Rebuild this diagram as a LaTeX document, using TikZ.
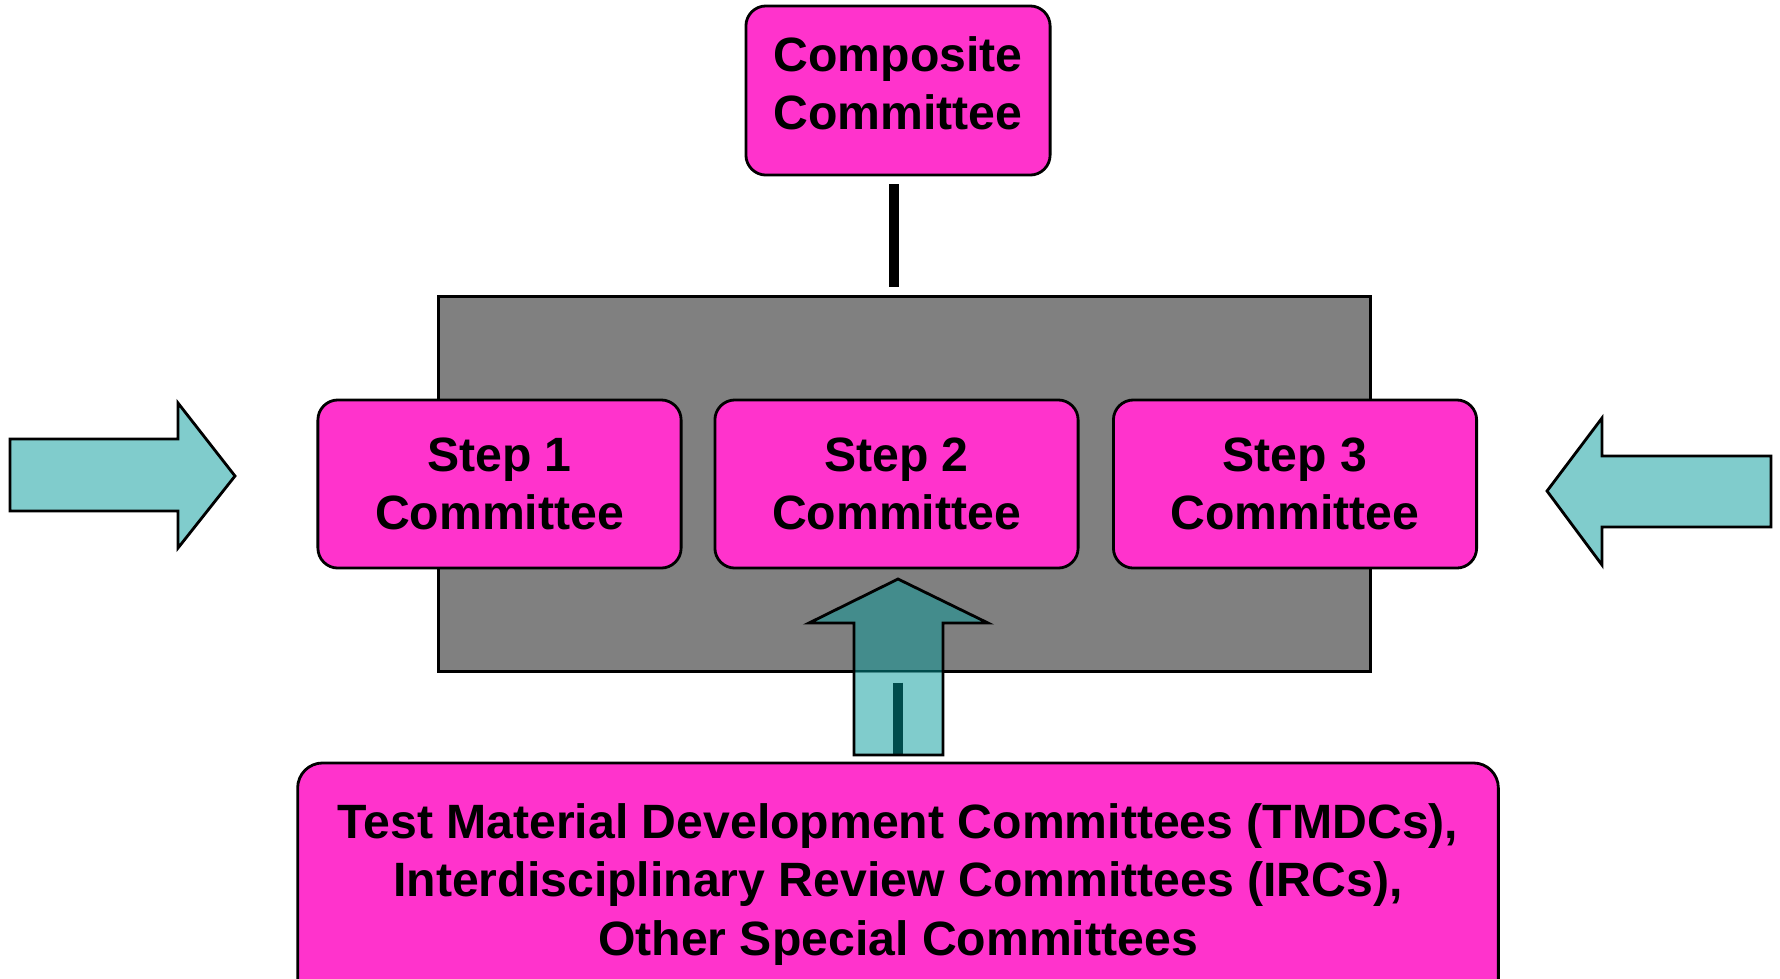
\documentclass[tikz,border=0pt]{standalone}
\usepackage{fontspec}
\setmainfont{Liberation Sans}
\definecolor{boxpink}{RGB}{255,51,204}
\definecolor{arrowteal}{RGB}{128,204,204}
\definecolor{deepteal}{RGB}{67,140,140}
\definecolor{barteal}{RGB}{0,76,76}
\definecolor{panelgray}{RGB}{128,128,128}
\tikzset{
  committee/.style = {shape = rectangle, draw, line width = 0.8pt, fill = boxpink,
    rounded corners = 0.2cm, align = center, inner sep = 0pt,
    font = \fontsize{13.7}{16.5}\selectfont\bfseries},
  blockarrow/.style = {draw, line width = 0.8pt, fill = arrowteal},
  link/.style = {line width = 2.85pt, shorten > = 0.08cm, shorten < = 0.08cm}
}

\begin{document}
\begin{tikzpicture}[x = 0.01cm, y = -0.01cm]
    \useasboundingbox (0,0) rectangle (1780,978);
    \clip (0,0) rectangle (1780,978);
    \node [draw, line width = 0.8pt, fill = panelgray, inner sep = 0pt,
        minimum width = 9.31cm, minimum height = 3.74cm] (panel) at (904.5,484) {};
    \node [committee, text depth = 4.3pt, minimum width = 3.04cm, minimum height = 1.69cm] (comp) at (898,90.5) {Composite\\Committee};
    \node [committee, minimum width = 3.63cm, minimum height = 1.68cm] (s1) at (499.5,484) {Step 1\\Committee};
    \node [committee, minimum width = 3.63cm, minimum height = 1.68cm] (s2) at (896.5,484) {Step 2\\Committee};
    \node [committee, minimum width = 3.63cm, minimum height = 1.68cm] (s3) at (1295,484) {Step 3\\Committee};
    \node [committee, rounded corners = 0.25cm, minimum width = 12cm, minimum height = 2.43cm] (tmdc) at (898,884.5)
        {Test Material Development Committees (TMDCs),\\Interdisciplinary Review Committees (IRCs),\\Other Special Committees};
    \coordinate (compfoot) at ([xshift = -0.04cm]comp.south);
    \draw [link] (compfoot) -- (compfoot |- panel.north);
    % side arrows
    \draw [blockarrow] (10,439) -- (178,439) -- (178,403) -- (235,476) -- (178,548) -- (178,511) -- (10,511) -- cycle;
    \draw [blockarrow] (1771,456) -- (1602,456) -- (1602,418) -- (1547,491) -- (1602,565) -- (1602,527) -- (1771,527) -- cycle;
    % arrow from the bottom box up into step 2
    \path [save path = \liftpath] (854,755) -- (854,623) -- (809,623) -- (898,579) -- (988,623) -- (943,623) -- (943,755) -- cycle;
    \fill [arrowteal, use path = \liftpath];
    \begin{scope}
        \clip (panel.north west) rectangle (panel.south east);
        \fill [deepteal, use path = \liftpath];
    \end{scope}
    \draw [link, barteal, shorten < = 0.1cm] (panel.south -| tmdc.north) -- (tmdc.north);
    \draw [line width = 0.8pt, barteal] (854,671) -- (943,671);
    \draw [line width = 0.8pt, use path = \liftpath];
\end{tikzpicture}
\end{document}
